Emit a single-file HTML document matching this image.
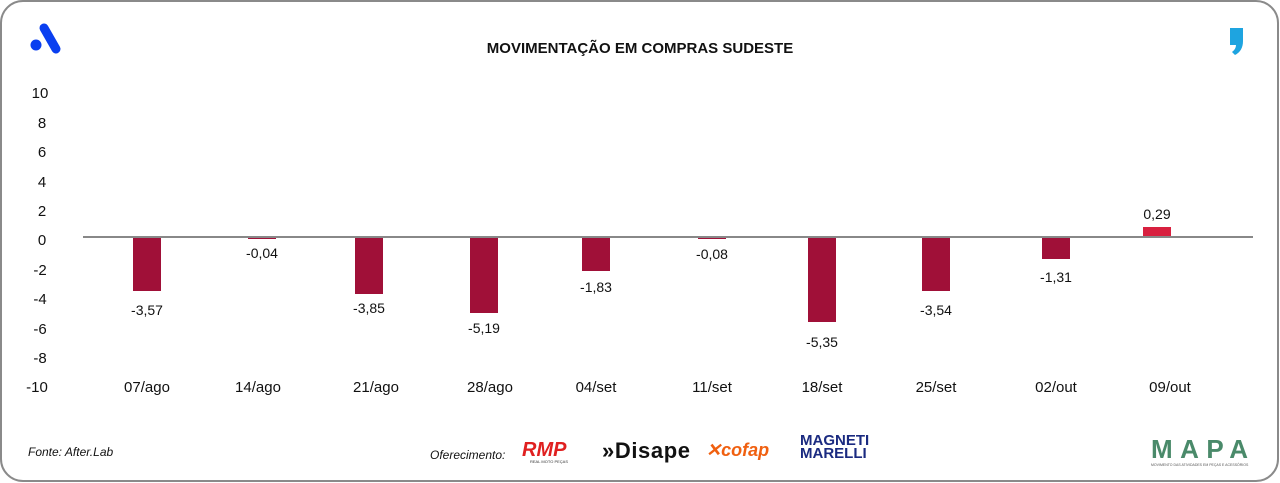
<!DOCTYPE html>
<html><head><meta charset="utf-8"><style>
html,body{margin:0;padding:0;background:#fff;}
svg{display:block;font-family:"Liberation Sans",sans-serif;}
</style></head><body>
<svg width="1280" height="483" viewBox="0 0 1280 483">
<rect x="1" y="1" width="1277" height="480" rx="22" fill="#fff" stroke="#8a8a8a" stroke-width="2"/>
<!-- logo A -->
<line x1="44" y1="28" x2="56" y2="49" stroke="#0a3ff0" stroke-width="9" stroke-linecap="round"/>
<circle cx="36" cy="45" r="5.5" fill="#0a3ff0"/>
<!-- right logo -->
<path d="M1230 28 h13 v13 q0 10 -8 14 l-3 -3 q4 -3 4 -7 h-6 z" fill="#1ea4e0"/>
<text x="640" y="53" text-anchor="middle" font-size="15" font-weight="bold" fill="#111">MOVIMENTAÇÃO EM COMPRAS SUDESTE</text>
<g font-size="15" fill="#111" text-anchor="middle">
<text x="40" y="98">10</text><text x="42" y="128">8</text><text x="42" y="157">6</text><text x="42" y="187">4</text><text x="42" y="216">2</text><text x="42" y="245">0</text><text x="40" y="275">-2</text><text x="40" y="304">-4</text><text x="40" y="334">-6</text><text x="40" y="363">-8</text><text x="37" y="392">-10</text>
</g>
<g fill="#a01038">
<rect x="133" y="237" width="28" height="54"/>
<rect x="248" y="237" width="28" height="2"/>
<rect x="355" y="237" width="28" height="57"/>
<rect x="470" y="237" width="28" height="76"/>
<rect x="582" y="237" width="28" height="34"/>
<rect x="698" y="237" width="28" height="2"/>
<rect x="808" y="237" width="28" height="85"/>
<rect x="922" y="237" width="28" height="54"/>
<rect x="1042" y="237" width="28" height="22"/>
</g>
<rect x="1143" y="227" width="28" height="10" fill="#d8203f"/>
<line x1="83" y1="237" x2="1253" y2="237" stroke="#888" stroke-width="2"/>
<g font-size="14" fill="#111" text-anchor="middle">
<text x="147" y="315">-3,57</text>
<text x="262" y="258">-0,04</text>
<text x="369" y="313">-3,85</text>
<text x="484" y="333">-5,19</text>
<text x="596" y="292">-1,83</text>
<text x="712" y="259">-0,08</text>
<text x="822" y="347">-5,35</text>
<text x="936" y="315">-3,54</text>
<text x="1056" y="282">-1,31</text>
<text x="1157" y="219">0,29</text>
</g>
<g font-size="15" fill="#111" text-anchor="middle">
<text x="147" y="392">07/ago</text><text x="258" y="392">14/ago</text><text x="376" y="392">21/ago</text><text x="490" y="392">28/ago</text><text x="596" y="392">04/set</text><text x="712" y="392">11/set</text><text x="822" y="392">18/set</text><text x="936" y="392">25/set</text><text x="1056" y="392">02/out</text><text x="1170" y="392">09/out</text>
</g>
<text x="28" y="456" font-size="12" font-style="italic" fill="#111">Fonte: After.Lab</text>
<text x="430" y="459" font-size="12" font-style="italic" fill="#111">Oferecimento:</text>
<text x="522" y="456" font-size="20" font-weight="bold" font-style="italic" fill="#e02020">RMP</text>
<text x="530" y="463" font-size="4" fill="#333">REAL MOTO PEÇAS</text>
<text x="602" y="458" font-size="22" font-weight="bold" fill="#111" textLength="88">»Disape</text>
<text x="706" y="456" font-size="18" font-weight="bold" font-style="italic" fill="#f06010">✕cofap</text>
<text x="800" y="445" font-size="15" font-weight="bold" fill="#1a2a80">MAGNETI</text>
<text x="800" y="458" font-size="15" font-weight="bold" fill="#1a2a80">MARELLI</text>
<text x="1151" y="458" font-size="26" font-weight="bold" fill="#4a8a6a" textLength="97">MAPA</text>
<text x="1151" y="466" font-size="3.5" fill="#555">MOVIMENTO DAS ATIVIDADES EM PEÇAS E ACESSÓRIOS</text>
</svg>
</body></html>
